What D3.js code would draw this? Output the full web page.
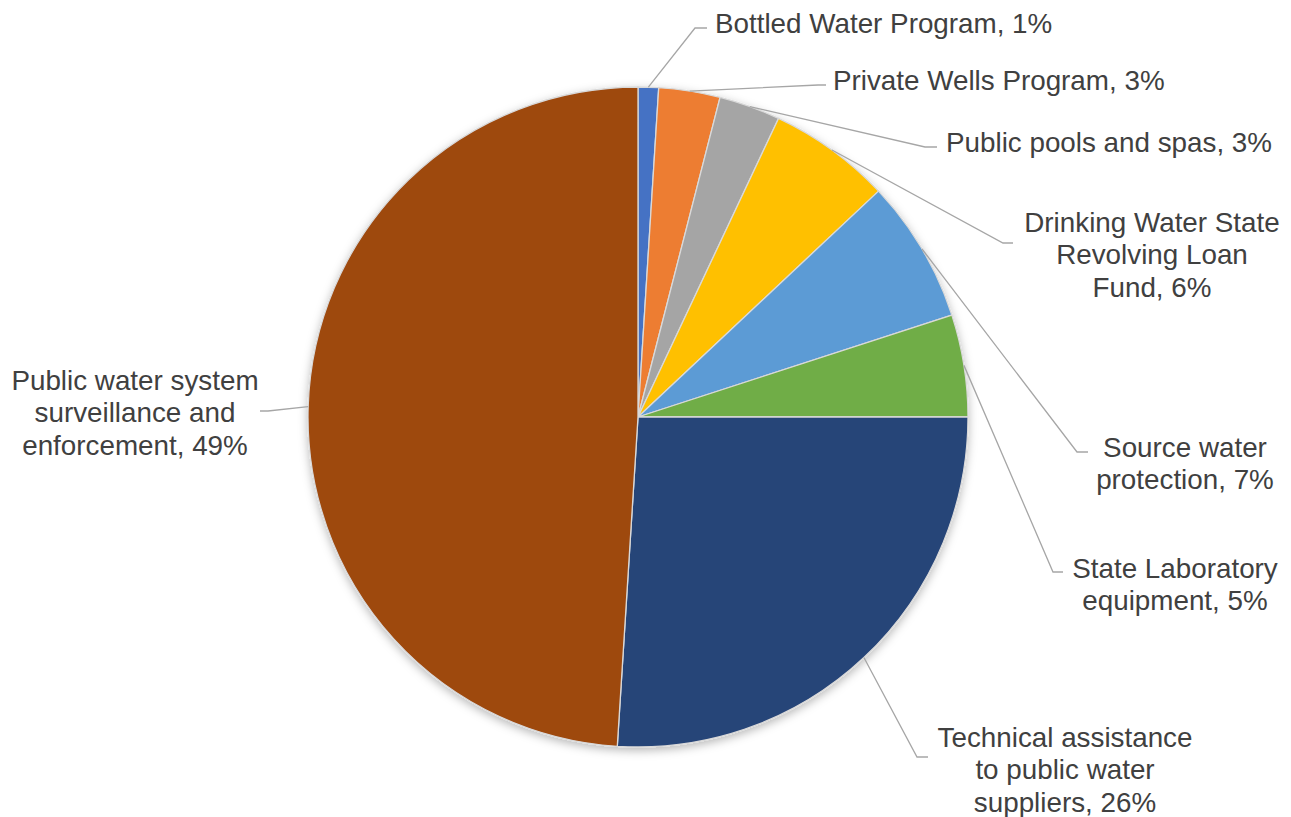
<!DOCTYPE html>
<head>
    <meta charset="utf-8">
    <title>Drinking water program shares</title>
    <style>
        body { margin: 0; background: #fff; }
        text { font-family: "Liberation Sans", Arial, sans-serif; }
    </style>
</head>

<body>

    <script src="https://d3js.org/d3.v7.min.js"></script>

    <script>

        // slice data, clockwise from 12 o'clock
        var categories = [
            'Bottled Water Program',
            'Private Wells Program',
            'Public pools and spas',
            'Drinking Water State Revolving Loan Fund',
            'Source water protection',
            'State Laboratory equipment',
            'Technical assistance to public water suppliers',
            'Public water system surveillance and enforcement'
        ];
        var shares = [1, 3, 3, 6, 7, 5, 26, 49];
        var colors = ['#4472C4', '#ED7D31', '#A5A5A5', '#FFC000', '#5B9BD5', '#70AD47', '#264478', '#9E480E'];

        // how each label wraps
        var labelLines = [
            ['Bottled Water Program, 1%'],
            ['Private Wells Program, 3%'],
            ['Public pools and spas, 3%'],
            ['Drinking Water State', 'Revolving Loan', 'Fund, 6%'],
            ['Source water', 'protection, 7%'],
            ['State Laboratory', 'equipment, 5%'],
            ['Technical assistance', 'to public water', 'suppliers, 26%'],
            ['Public water system', 'surveillance and', 'enforcement, 49%']
        ];

        // label placement (text anchor x, first baseline, leader elbow and end)
        var labelPos = [
            { x: 715, y: 33, anchor: 'start', elbow: [695, 28], end: [707, 28] },
            { x: 833, y: 90, anchor: 'start', elbow: [818, 85], end: [826, 85] },
            { x: 946, y: 152, anchor: 'start', elbow: [925, 147], end: [937, 147] },
            { x: 1152, y: 232, anchor: 'middle', elbow: [1003, 243], end: [1013, 243] },
            { x: 1185, y: 457, anchor: 'middle', elbow: [1077, 452], end: [1088, 452] },
            { x: 1175, y: 578, anchor: 'middle', elbow: [1053, 572], end: [1063, 572] },
            { x: 1065, y: 747, anchor: 'middle', elbow: [917, 757], end: [928, 757] },
            { x: 135, y: 390, anchor: 'middle', elbow: [268, 411], end: [260, 411] }
        ];

        var width = 1291,
            height = 817,
            cx = 638,
            cy = 417,
            radius = 330,
            lineHeight = 32.3;

        var data = categories.map(function (c, i) {
            return { name: c, value: shares[i], color: colors[i], lines: labelLines[i], pos: labelPos[i] };
        });

        var pie = d3.pie()
            .sort(null)
            .value(function (d) { return d.value; });

        var arc = d3.arc()
            .innerRadius(0)
            .outerRadius(radius);

        var edgeArc = d3.arc()
            .innerRadius(radius)
            .outerRadius(radius);

        var svg = d3.select('body').append('svg')
            .attr('width', width)
            .attr('height', height);

        // soft shadow round the pie
        var defs = svg.append('defs');
        var shadow = defs.append('filter')
            .attr('id', 'shadow')
            .attr('x', '-10%').attr('y', '-10%')
            .attr('width', '120%').attr('height', '120%');
        shadow.append('feDropShadow')
            .attr('dx', 0)
            .attr('dy', 3)
            .attr('stdDeviation', 5)
            .attr('flood-color', '#000')
            .attr('flood-opacity', 0.28);

        var g = svg.append('g')
            .attr('transform', 'translate(' + cx + ',' + cy + ')');

        var arcs = pie(data);

        g.append('g')
            .attr('filter', 'url(#shadow)')
            .selectAll('path')
            .data(arcs)
            .enter().append('path')
            .attr('d', arc)
            .attr('fill', function (d) { return d.data.color; })
            .attr('stroke', '#d9d9d9')
            .attr('stroke-width', 1.3);

        // leader lines
        svg.append('g')
            .selectAll('polyline')
            .data(arcs)
            .enter().append('polyline')
            .attr('points', function (d) {
                var c = edgeArc.centroid(d);
                var p = d.data.pos;
                return [[cx + c[0], cy + c[1]], p.elbow, p.end].join(' ');
            })
            .attr('fill', 'none')
            .attr('stroke', '#a6a6a6')
            .attr('stroke-width', 1.3);

        // labels
        var labels = svg.append('g')
            .selectAll('text')
            .data(data)
            .enter().append('text')
            .attr('x', function (d) { return d.pos.x; })
            .attr('y', function (d) { return d.pos.y; })
            .attr('text-anchor', function (d) { return d.pos.anchor; })
            .attr('font-size', '27.8px')
            .attr('fill', '#404040');

        labels.selectAll('tspan')
            .data(function (d) { return d.lines.map(function (l) { return { text: l, x: d.pos.x }; }); })
            .enter().append('tspan')
            .attr('x', function (d) { return d.x; })
            .attr('dy', function (d, i) { return i === 0 ? 0 : lineHeight; })
            .text(function (d) { return d.text; });

    </script>

</body>
